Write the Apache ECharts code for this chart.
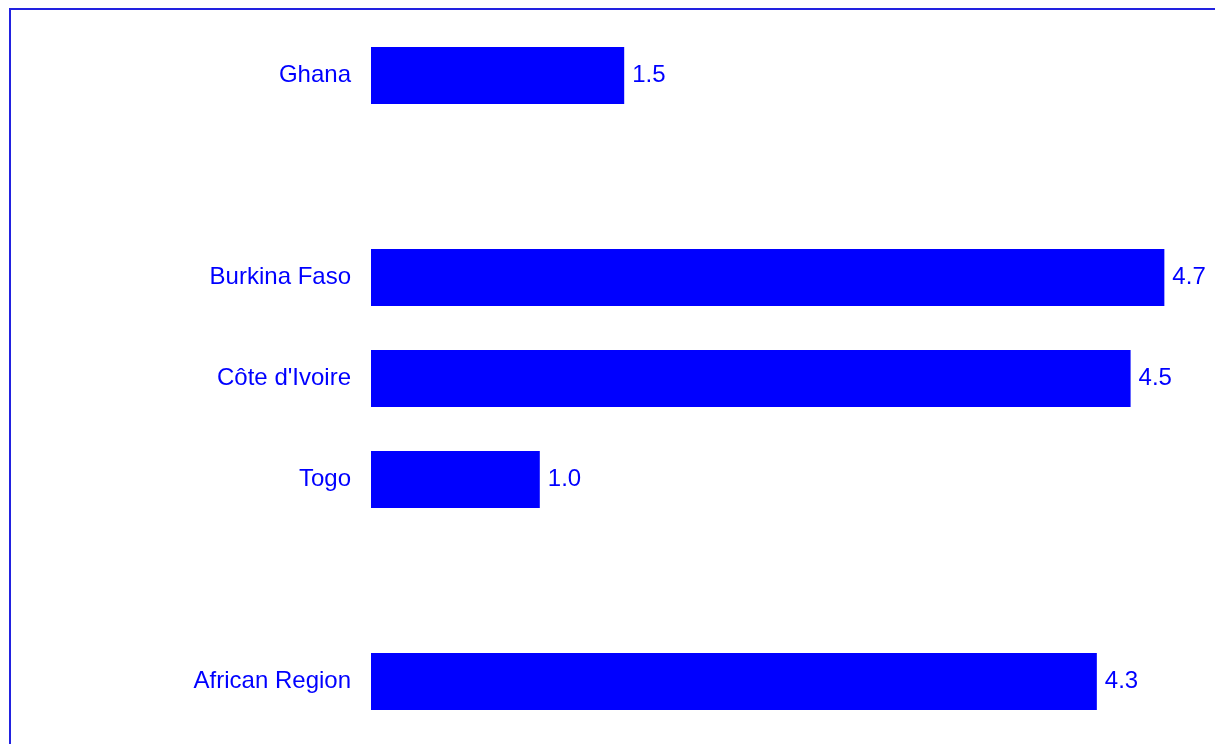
<!DOCTYPE html>
<html>
<head>
<meta charset="utf-8">
<script src="https://cdn.jsdelivr.net/npm/echarts@6/dist/echarts.min.js"></script>
<style>
  html, body { margin: 0; padding: 0; background: #fff; }
  #chart { width: 1215px; height: 744px; }
</style>
</head>
<body>
<div id="chart"></div>
<script>
// Rows from top to bottom; empty strings are spacer rows between groups
const categories = ['Ghana', '', 'Burkina Faso', "Côte d'Ivoire", 'Togo', '', 'African Region'];
const values = [1.5, null, 4.7, 4.5, 1.0, null, 4.3];

const BLUE = '#0000ff';
const FONT = "'Liberation Sans', Arial, sans-serif";

const chart = echarts.init(document.getElementById('chart'), null, { renderer: 'canvas' });
chart.setOption({
  backgroundColor: '#ffffff',
  animation: false,
  grid: { left: 371, top: 25, width: 847.6, height: 707, containLabel: false },
  xAxis: {
    type: 'value', min: 0, max: 5,
    show: false
  },
  yAxis: {
    type: 'category',
    data: categories,
    inverse: true,
    axisLine: { show: false },
    axisTick: { show: false },
    splitLine: { show: false },
    axisLabel: { color: BLUE, fontSize: 24, fontFamily: FONT, margin: 20 }
  },
  series: [{
    type: 'bar',
    data: values,
    barWidth: 57,
    itemStyle: { color: BLUE },
    label: {
      show: true,
      position: 'right',
      distance: 8,
      color: BLUE,
      fontSize: 24,
      fontFamily: FONT,
      formatter: p => p.value == null ? '' : Number(p.value).toFixed(1)
    }
  }],
  graphic: [{
    type: 'rect',
    shape: { x: 10, y: 9, width: 1400, height: 900 },
    style: { fill: 'none', stroke: '#2222e0', lineWidth: 2 },
    silent: true
  }]
});
</script>
</body>
</html>
